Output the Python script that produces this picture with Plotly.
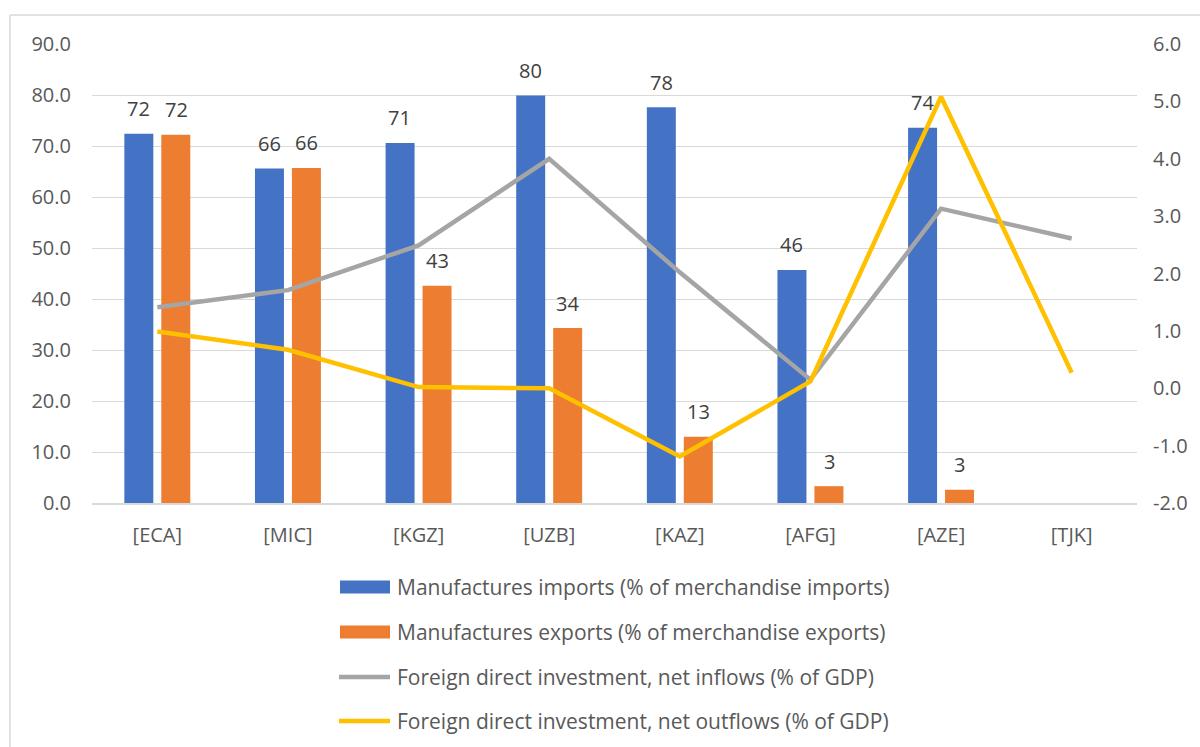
import plotly.graph_objects as go

# Country / region groups
categories = ["[ECA]", "[MIC]", "[KGZ]", "[UZB]", "[KAZ]", "[AFG]", "[AZE]", "[TJK]"]

# Left axis: share of merchandise trade (%)
manuf_imports = [72.4, 65.6, 70.6, 79.9, 77.6, 45.7, 73.6, None]
manuf_exports = [72.2, 65.7, 42.6, 34.3, 13.0, 3.3, 2.6, None]

# Right axis: FDI (% of GDP)
fdi_inflows = [1.41, 1.71, 2.49, 4.00, 2.02, 0.15, 3.13, 2.61]
fdi_outflows = [0.99, 0.67, 0.02, 0.00, -1.19, 0.12, 5.08, 0.27]

# Secondary axis ticks (plain hyphen for negatives)
y2_tickvals = [-2, -1, 0, 1, 2, 3, 4, 5, 6]
y2_ticktext = ["-2.0", "-1.0", "0.0", "1.0", "2.0", "3.0", "4.0", "5.0", "6.0"]

series_names = [
    "Manufactures imports (% of merchandise imports)",
    "Manufactures exports (% of merchandise exports)",
    "Foreign direct investment, net inflows (% of GDP)",
    "Foreign direct investment, net outflows (% of GDP)",
]

BLUE = "#4472C4"
ORANGE = "#ED7D31"
GRAY = "#A5A5A5"
GOLD = "#FFC000"
GRID = "#D9D9D9"
TXT = "#595959"
FONT = "Open Sans"

W, H = 1200, 747
ML, MR, MT, MB = 92, 63, 44, 244
PW, PH = W - ML - MR, H - MT - MB


def px(x):
    return (x - ML) / PW


def py(y):
    return (H - MB - y) / PH


fig = go.Figure()

fig.add_trace(go.Bar(
    x=categories, y=manuf_imports, name=series_names[0],
    marker=dict(color=BLUE, line=dict(width=0)), yaxis="y",
))
fig.add_trace(go.Bar(
    x=categories, y=manuf_exports, name=series_names[1],
    marker=dict(color=ORANGE, line=dict(width=0)), yaxis="y",
))
fig.add_trace(go.Scatter(
    x=categories, y=fdi_inflows, name=series_names[2], mode="lines",
    line=dict(color=GRAY, width=4.5), yaxis="y2",
))
fig.add_trace(go.Scatter(
    x=categories, y=fdi_outflows, name=series_names[3], mode="lines",
    line=dict(color=GOLD, width=4.5), yaxis="y2",
))

# Value labels above the bars
annotations = []
for vals, shift in ((manuf_imports, -18.7), (manuf_exports, 18.7)):
    for cat, v in zip(categories, vals):
        if v is None:
            continue
        annotations.append(dict(
            x=cat, y=v, xref="x", yref="y", text=f"{v:.0f}", showarrow=False,
            xshift=shift, yshift=25, yanchor="middle",
            font=dict(family=FONT, size=20, color="#404040"),
        ))

# Legend drawn below the plot
shapes = []
legend_rows = [587, 632, 677, 721]
for i, (name, row) in enumerate(zip(series_names, legend_rows)):
    if i < 2:
        shapes.append(dict(
            type="rect", xref="paper", yref="paper",
            x0=px(340), x1=px(390), y0=py(row + 6.5), y1=py(row - 6.5),
            fillcolor=[BLUE, ORANGE][i], line=dict(width=0),
        ))
    else:
        shapes.append(dict(
            type="line", xref="paper", yref="paper",
            x0=px(339), x1=px(390), y0=py(row), y1=py(row),
            line=dict(color=[GRAY, GOLD][i - 2], width=4.5),
        ))
    annotations.append(dict(
        x=px(395), y=py(row), xref="paper", yref="paper", text=name,
        showarrow=False, xanchor="left", yanchor="middle",
        font=dict(family=FONT, size=21, color=TXT),
    ))

# Chart-area frame (top and left edges visible)
shapes.append(dict(type="line", xref="paper", yref="paper",
                   x0=px(10), x1=px(1205), y0=py(15), y1=py(15),
                   line=dict(color=GRID, width=1.5)))
shapes.append(dict(type="line", xref="paper", yref="paper",
                   x0=px(10), x1=px(10), y0=py(15), y1=py(752),
                   line=dict(color=GRID, width=1.5)))

fig.update_layout(
    width=W, height=H,
    margin=dict(l=ML, r=MR, t=MT, b=MB, pad=0),
    paper_bgcolor="white", plot_bgcolor="white",
    barmode="group", bargap=0.434, bargroupgap=0.216,
    showlegend=False,
    font=dict(family=FONT, size=19, color=TXT),
    xaxis=dict(
        type="category", range=[-0.5, 7.5], showgrid=False,
        showline=True, linecolor=GRID, linewidth=1.5,
        ticks="", ticklabelstandoff=13,
        tickfont=dict(family=FONT, size=20, color=TXT),
    ),
    yaxis=dict(
        range=[0, 90], dtick=10, tickformat=".1f",
        showgrid=True, gridcolor=GRID, gridwidth=1.3,
        zeroline=False, showline=False, ticks="", ticklabelstandoff=20,
        tickfont=dict(family=FONT, size=20, color=TXT),
    ),
    yaxis2=dict(
        range=[-2, 6], tickmode="array", tickvals=y2_tickvals,
        ticktext=y2_ticktext, overlaying="y", side="right",
        showgrid=False, zeroline=False, showline=False, ticks="",
        ticklabelstandoff=15,
        tickfont=dict(family=FONT, size=20, color=TXT),
    ),
    annotations=annotations,
    shapes=shapes,
)

fig.write_html("out.html")
